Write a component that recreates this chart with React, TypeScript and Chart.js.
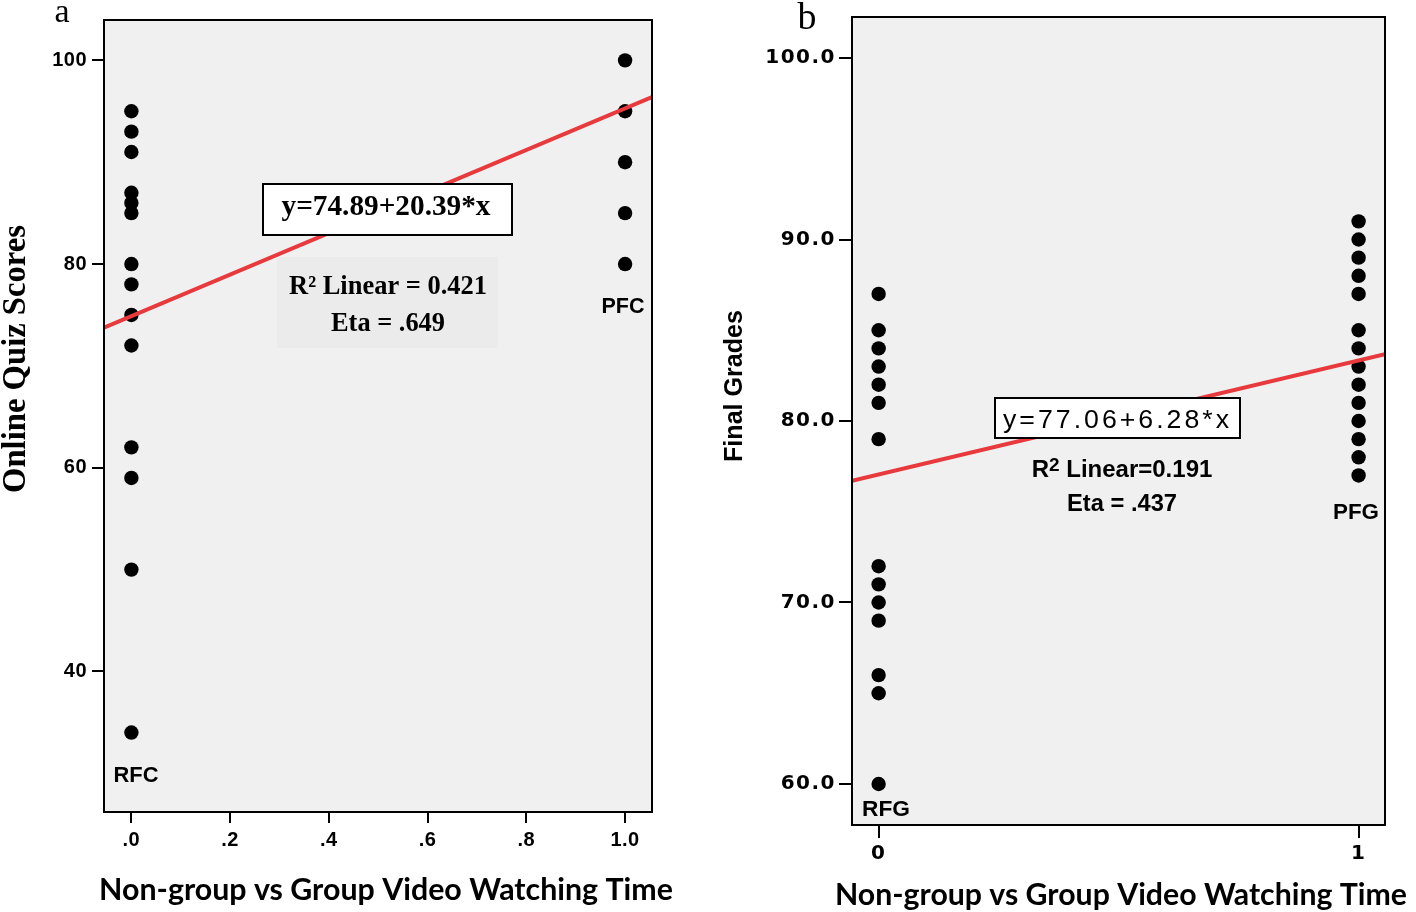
import React, { useEffect, useRef } from 'react';
import { Chart, registerables } from 'chart.js';

Chart.register(...registerables);

// ---------- Panel a: Online quiz scores ----------
const quizGroupX = [0, 1];
const quizNonGroup = [95, 93, 91, 87, 86, 85, 80, 78, 75, 72, 62, 59, 50, 34];
const quizGroup = [100, 95, 90, 85, 80];
const quizFit = [74.89, 20.39]; // intercept, slope
const quizXTicks = [0, 0.2, 0.4, 0.6, 0.8, 1.0];
const quizXTickLabels = ['.0', '.2', '.4', '.6', '.8', '1.0'];
const quizYTicks = [40, 60, 80, 100];
const quizXRange = [-0.0555, 1.0545];
const quizYRange = [26.2, 103.96];
const quizGroupNames = ['RFC', 'PFC'];
const quizStats = ['y=74.89+20.39*x', 'R\u00B2 Linear = 0.421', 'Eta = .649'];

// ---------- Panel b: Final grades ----------
const gradeGroupX = [0, 1];
const gradeNonGroup = [87, 85, 84, 83, 82, 81, 79, 72, 71, 70, 69, 66, 65, 60];
const gradeGroup = [91, 90, 89, 88, 87, 85, 84, 83, 82, 81, 80, 79, 78, 77];
const gradeFit = [77.06, 6.28]; // intercept, slope
const gradeXTicks = [0, 1];
const gradeXTickLabels = ['0', '1'];
const gradeYTicks = [60, 70, 80, 90, 100];
const gradeXRange = [-0.0555, 1.055];
const gradeYRange = [57.74, 102.26];
const gradeGroupNames = ['RFG', 'PFG'];
const gradeStats = ['y=77.06+6.28*x', 'Linear=0.191', 'Eta = .437'];

const xTitle = 'Non-group vs Group Video Watching Time';

const RED = 'rgb(232,57,60)';
const PLOT_BG = '#f0f0f0';
const SANS = '"Liberation Sans", Arial, sans-serif';
const SERIF = '"Liberation Serif", "Times New Roman", serif';
const DEJAVU = '"DejaVu Sans", sans-serif';
const TITLE_SANS = 'Lato, "Open Sans", sans-serif';

type TextOpts = {
  family: string;
  weight?: string;
  size: number;
  x: number;
  y: number;
  align?: CanvasTextAlign;
  spacing?: number;
  rotate?: number;
  fitWidth?: number; // scale font size to reach this width
};

function drawText(ctx: CanvasRenderingContext2D, str: string, o: TextOpts) {
  ctx.save();
  const weight = o.weight || 'normal';
  let size = o.size;
  const spacing = o.spacing || 0;
  (ctx as any).letterSpacing = '0px';
  if (o.fitWidth) {
    ctx.font = `${weight} 100px ${o.family}`;
    const w = ctx.measureText(str).width;
    size = (100 * (o.fitWidth - spacing * (str.length - 1))) / w;
  }
  ctx.font = `${weight} ${size}px ${o.family}`;
  (ctx as any).letterSpacing = `${spacing}px`;
  ctx.fillStyle = '#000';
  const align = o.align || 'center';
  ctx.textAlign = align;
  ctx.textBaseline = 'alphabetic';
  ctx.translate(o.x, o.y);
  if (o.rotate) ctx.rotate(o.rotate);
  const shift = align === 'center' ? spacing / 2 : align === 'right' ? spacing : 0;
  ctx.fillText(str, shift, 0);
  ctx.restore();
}

type Run = { text: string; size: number; dy?: number };
function drawRuns(ctx: CanvasRenderingContext2D, runs: Run[], family: string, weight: string, cx: number, y: number) {
  ctx.save();
  (ctx as any).letterSpacing = '0px';
  ctx.fillStyle = '#000';
  ctx.textBaseline = 'alphabetic';
  ctx.textAlign = 'left';
  const widths = runs.map((r) => {
    ctx.font = `${weight} ${r.size}px ${family}`;
    return ctx.measureText(r.text).width;
  });
  let x = cx - widths.reduce((s, w) => s + w, 0) / 2;
  runs.forEach((r, i) => {
    ctx.font = `${weight} ${r.size}px ${family}`;
    ctx.fillText(r.text, x, y - (r.dy || 0));
    x += widths[i];
  });
  ctx.restore();
}

function scatterSet(x: number, values: number[]) {
  return {
    type: 'scatter',
    data: values.map((y) => ({ x, y })),
    pointRadius: 7.2,
    pointHoverRadius: 7.2,
    pointBackgroundColor: '#000',
    pointBorderWidth: 0,
    backgroundColor: '#000',
    showLine: false,
    order: 1,
  };
}

function fitSet(fit: number[], range: number[]) {
  return {
    type: 'line',
    data: range.map((x) => ({ x, y: fit[0] + fit[1] * x })),
    borderColor: RED,
    borderWidth: 4,
    pointRadius: 0,
    fill: false,
    order: 0,
  };
}

type AxisSpec = {
  range: number[];
  ticks: number[];
  labels: string[];
  size: number; // fixed axis box size
  tickLength: number;
  padding: number;
  font: any;
};

function buildScale(spec: AxisSpec, horizontal: boolean) {
  return {
    type: 'linear',
    min: spec.range[0],
    max: spec.range[1],
    afterBuildTicks: (scale: any) => {
      scale.ticks = spec.ticks.map((v) => ({ value: v }));
    },
    afterFit: (scale: any) => {
      if (horizontal) scale.height = spec.size;
      else scale.width = spec.size;
    },
    grid: {
      display: true,
      drawOnChartArea: false,
      drawTicks: true,
      tickLength: spec.tickLength,
      tickWidth: 2,
      tickColor: '#000',
      color: '#000',
      lineWidth: 2,
    },
    border: { display: false },
    ticks: {
      autoSkip: false,
      maxRotation: 0,
      minRotation: 0,
      padding: spec.padding,
      color: '#000',
      font: spec.font,
      callback: (_v: any, i: number) => spec.labels[i],
    },
  };
}

function backgroundPlugin(spacing: string) {
  return {
    id: 'plotBackground',
    beforeDraw(chart: any) {
      const { ctx, chartArea: a } = chart;
      ctx.save();
      ctx.fillStyle = PLOT_BG;
      ctx.fillRect(a.left, a.top, a.right - a.left, a.bottom - a.top);
      ctx.restore();
      ctx.letterSpacing = spacing;
    },
  };
}

function frame(ctx: CanvasRenderingContext2D, a: any) {
  ctx.save();
  (ctx as any).letterSpacing = '0px';
  ctx.strokeStyle = '#000';
  ctx.lineWidth = 2;
  ctx.strokeRect(a.left, a.top, a.right - a.left, a.bottom - a.top);
  ctx.restore();
}

function buildQuiz(): any {
  return {
    type: 'scatter',
    data: {
      datasets: [
        fitSet(quizFit, quizXRange),
        scatterSet(quizGroupX[0], quizNonGroup),
        scatterSet(quizGroupX[1], quizGroup),
      ],
    },
    options: {
      responsive: false,
      animation: false,
      events: [],
      layout: { padding: { left: 0, top: 20, right: 56, bottom: 0 } },
      plugins: { legend: { display: false }, tooltip: { enabled: false } },
      scales: {
        x: buildScale(
          {
            range: quizXRange,
            ticks: quizXTicks,
            labels: quizXTickLabels,
            size: 100,
            tickLength: 11,
            padding: 5,
            font: { family: SANS, size: 20, weight: 'bold' },
          },
          true
        ),
        y: buildScale(
          {
            range: quizYRange,
            ticks: quizYTicks,
            labels: quizYTicks.map((v) => String(v)),
            size: 104,
            tickLength: 12,
            padding: 5,
            font: { family: SANS, size: 20, weight: 'bold' },
          },
          false
        ),
      },
    },
    plugins: [
      backgroundPlugin('0.5px'),
      {
        id: 'quizDecor',
        beforeDatasetsDraw(chart: any) {
          const { ctx } = chart;
          ctx.save();
          ctx.fillStyle = '#ebebeb';
          ctx.fillRect(277, 257, 221, 91);
          ctx.restore();
        },
        afterDraw(chart: any) {
          const { ctx, chartArea } = chart;
          frame(ctx, chartArea);
          ctx.save();
          ctx.fillStyle = '#fff';
          ctx.fillRect(263, 184, 249, 51);
          ctx.strokeStyle = '#000';
          ctx.lineWidth = 2;
          ctx.strokeRect(263, 184, 249, 51);
          ctx.restore();
          drawText(ctx, quizStats[0], { family: SERIF, weight: 'bold', size: 28, x: 386, y: 215, fitWidth: 209 });
          drawText(ctx, quizStats[1], { family: SERIF, weight: 'bold', size: 26, x: 388, y: 294, fitWidth: 198 });
          drawText(ctx, quizStats[2], { family: SERIF, weight: 'bold', size: 26, x: 388, y: 331, fitWidth: 114 });
          drawText(ctx, quizGroupNames[0], { family: SANS, weight: 'bold', size: 22, x: 136, y: 782, fitWidth: 45 });
          drawText(ctx, quizGroupNames[1], { family: SANS, weight: 'bold', size: 22, x: 623, y: 313, fitWidth: 43 });
          drawText(ctx, 'a', { family: SERIF, size: 34, x: 62, y: 22 });
          drawText(ctx, 'Online Quiz Scores', {
            family: SERIF,
            weight: 'bold',
            size: 28,
            x: 25,
            y: 359,
            rotate: -Math.PI / 2,
            fitWidth: 268,
          });
          drawText(ctx, xTitle, { family: TITLE_SANS, weight: 'bold', size: 26, x: 386, y: 900, fitWidth: 574 });
        },
      },
    ],
  };
}

function buildGrade(): any {
  return {
    type: 'scatter',
    data: {
      datasets: [
        fitSet(gradeFit, gradeXRange),
        scatterSet(gradeGroupX[0], gradeNonGroup),
        scatterSet(gradeGroupX[1], gradeGroup),
      ],
    },
    options: {
      responsive: false,
      animation: false,
      events: [],
      layout: { padding: { left: 0, top: 17, right: 31, bottom: 0 } },
      plugins: { legend: { display: false }, tooltip: { enabled: false } },
      scales: {
        x: buildScale(
          {
            range: gradeXRange,
            ticks: gradeXTicks,
            labels: gradeXTickLabels,
            size: 87,
            tickLength: 13,
            padding: 4,
            font: { family: DEJAVU, size: 20, weight: 'bold' },
          },
          true
        ),
        y: buildScale(
          {
            range: gradeYRange,
            ticks: gradeYTicks,
            labels: gradeYTicks.map((v) => v.toFixed(1)),
            size: 144,
            tickLength: 13,
            padding: 3,
            font: { family: DEJAVU, size: 20, weight: 'bold' },
          },
          false
        ),
      },
    },
    plugins: [
      backgroundPlugin('1.5px'),
      {
        id: 'gradeDecor',
        afterDraw(chart: any) {
          const { ctx, chartArea } = chart;
          frame(ctx, chartArea);
          ctx.save();
          ctx.fillStyle = '#fff';
          ctx.fillRect(287, 398, 245, 40);
          ctx.strokeStyle = '#000';
          ctx.lineWidth = 2;
          ctx.strokeRect(287, 398, 245, 40);
          ctx.restore();
          drawText(ctx, gradeStats[0], { family: SANS, size: 25, x: 408, y: 428, spacing: 3, fitWidth: 226 });
          drawRuns(
            ctx,
            [
              { text: 'R', size: 24 },
              { text: '2', size: 19, dy: 6 },
              { text: ' ' + gradeStats[1], size: 24 },
            ],
            SANS,
            'bold',
            414,
            477
          );
          drawText(ctx, gradeStats[2], { family: SANS, weight: 'bold', size: 23, x: 414, y: 511, fitWidth: 110 });
          drawText(ctx, gradeGroupNames[0], { family: SANS, weight: 'bold', size: 22, x: 178, y: 816, fitWidth: 48 });
          drawText(ctx, gradeGroupNames[1], { family: SANS, weight: 'bold', size: 22, x: 648, y: 519, fitWidth: 46 });
          drawText(ctx, 'b', { family: SERIF, size: 38, x: 99, y: 29 });
          drawText(ctx, 'Final Grades', {
            family: SANS,
            weight: 'bold',
            size: 25,
            x: 34,
            y: 386,
            rotate: -Math.PI / 2,
            fitWidth: 152,
          });
          drawText(ctx, xTitle, { family: TITLE_SANS, weight: 'bold', size: 26, x: 413, y: 905, fitWidth: 572 });
        },
      },
    ],
  };
}

function Panel({ build, left }: { build: () => any; left: number }) {
  const ref = useRef<HTMLCanvasElement>(null);
  useEffect(() => {
    const chart = new Chart(ref.current as HTMLCanvasElement, build());
    return () => chart.destroy();
  }, [build]);
  return (
    <canvas
      ref={ref}
      width={708}
      height={912}
      style={{ position: 'absolute', left, top: 0, width: 708, height: 912, display: 'block' }}
    />
  );
}

export default function App() {
  return (
    <div style={{ position: 'fixed', left: 0, top: 0, width: 1416, height: 912, background: '#fff' }}>
      <Panel build={buildQuiz} left={0} />
      <Panel build={buildGrade} left={708} />
    </div>
  );
}
